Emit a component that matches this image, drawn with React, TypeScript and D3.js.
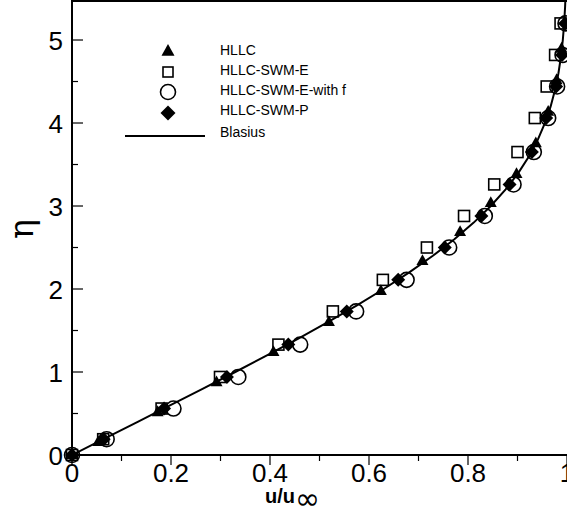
import React from "react";
import * as d3 from "d3";

// Blasius reference solution (eta, f'(eta))
const blasiusEta = [0, 0.2, 0.4, 0.6, 0.8, 1.0, 1.2, 1.4, 1.6, 1.8, 2.0, 2.2, 2.4, 2.6, 2.8, 3.0, 3.2, 3.4, 3.6, 3.8, 4.0, 4.2, 4.4, 4.6, 4.8, 5.0, 5.2, 5.4, 5.6];
const blasiusU = [0, 0.06641, 0.13277, 0.19894, 0.26471, 0.32979, 0.39378, 0.45627, 0.51676, 0.57477, 0.62977, 0.68132, 0.72899, 0.77246, 0.81152, 0.84605, 0.87609, 0.90177, 0.92333, 0.94112, 0.95552, 0.96696, 0.97587, 0.98269, 0.98779, 0.99155, 0.99425, 0.99616, 0.99748];

// HLLC (triangles)
const hllcEta = [0, 0.16, 0.52, 0.88, 1.245, 1.606, 1.98, 2.34, 2.69, 3.04, 3.39, 3.76, 4.14, 4.52, 4.9];
const hllcU = [0, 0.053, 0.173, 0.292, 0.407, 0.519, 0.624, 0.708, 0.784, 0.846, 0.898, 0.937, 0.962, 0.979, 0.989];

// common eta grid for SWM series
const swmEta = [0, 0.19, 0.56, 0.94, 1.33, 1.73, 2.11, 2.5, 2.88, 3.26, 3.65, 4.06, 4.44, 4.82, 5.2];
// HLLC-SWM-E (squares)
const swmEU = [0, 0.063, 0.181, 0.299, 0.417, 0.527, 0.628, 0.717, 0.792, 0.853, 0.9, 0.935, 0.959, 0.976, 0.987];
// HLLC-SWM-E-with f (circles)
const swmEfU = [0, 0.07, 0.205, 0.336, 0.461, 0.574, 0.676, 0.762, 0.834, 0.892, 0.933, 0.962, 0.98, 0.991, 0.997];
// HLLC-SWM-P (diamonds)
const swmPU = [0, 0.064, 0.186, 0.313, 0.437, 0.555, 0.659, 0.753, 0.827, 0.884, 0.929, 0.958, 0.978, 0.99, 0.996];

const xTicks = [0, 0.2, 0.4, 0.6, 0.8, 1];
const xMinor = [0.1, 0.3, 0.5, 0.7, 0.9];
const yTicks = [0, 1, 2, 3, 4, 5];
const yMinor = [0.5, 1.5, 2.5, 3.5, 4.5];
const legendLabels = ["HLLC", "HLLC-SWM-E", "HLLC-SWM-E-with f", "HLLC-SWM-P", "Blasius"];

const W = 567;
const H = 518;
const FONT = "'Liberation Sans', Arial, Helvetica, sans-serif";

function Triangle({ x, y, s }: { x: number; y: number; s: number }) {
  const h = s * 0.9;
  return <path d={`M${x},${y - h * 0.6}L${x + s / 2},${y + h * 0.4}L${x - s / 2},${y + h * 0.4}Z`} fill="#000" />;
}
function Square({ x, y, s }: { x: number; y: number; s: number }) {
  return <rect x={x - s / 2} y={y - s / 2} width={s} height={s} fill="none" stroke="#000" strokeWidth={1.6} />;
}
function Circle({ x, y, r }: { x: number; y: number; r: number }) {
  return <circle cx={x} cy={y} r={r} fill="none" stroke="#000" strokeWidth={1.6} />;
}
function Diamond({ x, y, s }: { x: number; y: number; s: number }) {
  const h = s / 2;
  return <path d={`M${x},${y - h}L${x + h},${y}L${x},${y + h}L${x - h},${y}Z`} fill="#000" />;
}

export default function App() {
  const x = d3.scaleLinear().domain([0, 1]).range([72, 567]);
  const y = d3.scaleLinear().domain([0, 5.47]).range([455, 1]);
  const line = d3
    .line<number>()
    .x((_, i) => x(blasiusU[i]))
    .y((e) => y(e));

  return (
    <svg width={W} height={H} style={{ position: "absolute", left: 0, top: 0, background: "#fff" }}>
      <defs>
        <clipPath id="plot">
          <rect x={72} y={1} width={W - 72} height={454} />
        </clipPath>
      </defs>
      <g clipPath="url(#plot)">
        <path d={line(blasiusEta) || ""} fill="none" stroke="#000" strokeWidth={2} />
      </g>
      <g>
        {hllcEta.map((e, i) => (
          <Triangle key={"t" + i} x={x(hllcU[i])} y={y(e)} s={12} />
        ))}
        {swmEta.map((e, i) => (
          <Square key={"s" + i} x={x(swmEU[i])} y={y(e)} s={11} />
        ))}
        {swmEta.map((e, i) => (
          <Circle key={"c" + i} x={x(swmEfU[i])} y={y(e)} r={7.5} />
        ))}
        {swmEta.map((e, i) => (
          <Diamond key={"d" + i} x={x(swmPU[i])} y={y(e)} s={14} />
        ))}
      </g>
      {/* axes */}
      <line x1={72} y1={1} x2={W} y2={1} stroke="#000" strokeWidth={2} />
      <line x1={72} y1={0} x2={72} y2={456} stroke="#000" strokeWidth={2} />
      <line x1={71} y1={455} x2={W} y2={455} stroke="#000" strokeWidth={2} />
      {xTicks.map((t) => (
        <g key={"xt" + t}>
          <line x1={x(t)} x2={x(t)} y1={455} y2={465} stroke="#000" strokeWidth={1.2} />
          <text x={x(t)} y={482} textAnchor="middle" fontFamily={FONT} fontSize={26}>
            {String(t)}
          </text>
        </g>
      ))}
      {xMinor.map((t) => (
        <line key={"xm" + t} x1={x(t)} x2={x(t)} y1={455} y2={461} stroke="#000" strokeWidth={1.2} />
      ))}
      {yTicks.map((t) => (
        <g key={"yt" + t}>
          <line x1={72} x2={83} y1={y(t)} y2={y(t)} stroke="#000" strokeWidth={1.2} />
          <text x={63} y={y(t) + 10} textAnchor="end" fontFamily={FONT} fontSize={26}>
            {String(t)}
          </text>
        </g>
      ))}
      {yMinor.map((t) => (
        <line key={"ym" + t} x1={72} x2={78} y1={y(t)} y2={y(t)} stroke="#000" strokeWidth={1.2} />
      ))}
      {/* axis titles */}
      <text x={265} y={503} fontFamily={FONT} fontSize={20} fontWeight="bold">
        u/u
        <tspan fontSize={30} fontWeight="normal" fontFamily="'DejaVu Sans', sans-serif" dy={6}>
          ∞
        </tspan>
      </text>
      <text
        transform="translate(33,229) rotate(-90)"
        textAnchor="middle"
        fontFamily="'DejaVu Serif', 'Liberation Serif', serif"
        fontSize={33}
      >
        η
      </text>
      {/* legend */}
      <Triangle x={168} y={51} s={13} />
      <Square x={168} y={72} s={10} />
      <Circle x={168} y={92} r={7.5} />
      <Diamond x={168} y={113} s={15} />
      <line x1={125} x2={205} y1={136} y2={136} stroke="#000" strokeWidth={2} />
      {legendLabels.map((l, i) => (
        <text key={l} x={220} y={55 + i * 20 + (i === 4 ? 2 : 0)} fontFamily={FONT} fontSize={14}>
          {l}
        </text>
      ))}
    </svg>
  );
}
